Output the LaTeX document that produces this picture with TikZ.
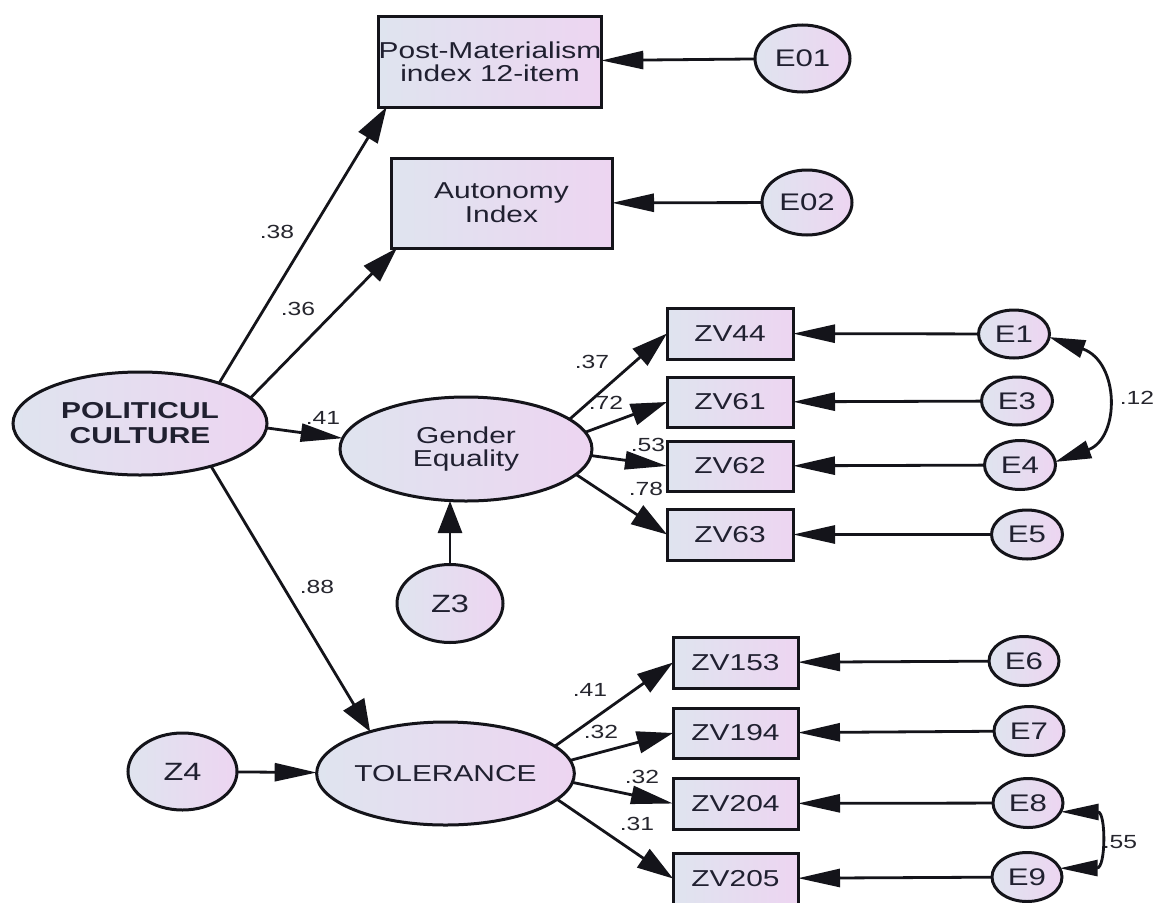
\documentclass[tikz,border=0pt]{standalone}
\usepackage{fontspec}
\setmainfont{Liberation Sans}[FakeStretch=1.3]
\usetikzlibrary{shapes.geometric,arrows.meta,calc}
\definecolor{fl}{RGB}{223,228,239}
\definecolor{fr}{RGB}{237,213,241}
\definecolor{ink}{RGB}{20,20,26}
\definecolor{txt}{RGB}{32,32,48}
\definecolor{labc}{RGB}{38,38,46}
\begin{document}
\begin{tikzpicture}[x=1pt,y=-1pt,
  shp/.style={draw=ink,line width=3pt,left color=fl,right color=fr,inner sep=0pt,outer sep=0pt,text=txt,align=center,font=\fontsize{23}{24}\selectfont},
  boxs/.style 2 args={shp,rectangle,minimum width=#1,minimum height=#2},
  ell/.style 2 args={shp,ellipse,minimum width=#1,minimum height=#2},
  efont/.style={font=\fontsize{24}{24}\selectfont},
  zfont/.style={font=\fontsize{25}{25}\selectfont},
  con/.style={draw=ink,line width=2.8pt},
  hx/.style={-{Triangle[length=42pt,width=18pt]}},
  dx/.style={-{Triangle[length=36pt,width=22pt]}},
  vx/.style={-{Triangle[length=32pt,width=24pt]}},
  lab/.style={font=\fontsize{19}{19}\selectfont,text=labc,inner sep=0pt}
]
\useasboundingbox (0,0) rectangle (1156,902);
\fill[white] (0,0) rectangle (1156,902);

% observed boxes top
\node[boxs={222pt}{91pt},font=\fontsize{23}{23}\selectfont] (pm) at (490,61.5) {Post-Materialism\\index 12-item};
\node[boxs={221pt}{90pt}] (au) at (501.5,203) {Autonomy\\Index};
\node[ell={95pt}{67pt},efont] (e01) at (802.5,58.5) {E01};
\node[ell={90pt}{65pt},efont] (e02) at (807,202.5) {E02};

% latent
\node[ell={254pt}{103pt},font=\bfseries\fontsize{23}{25}\selectfont] (pc) at (140,423.5) {POLITICUL\\CULTURE};
\node[ell={252pt}{104pt},font=\fontsize{23}{23}\selectfont] (ge) at (466,449) {Gender\\Equality};
\node[ell={106pt}{78pt},zfont] (z3) at (450,603.5) {Z3};
\node[ell={255pt}{103pt}] (tol) at (445.5,773.5) {TOLERANCE};
\node[ell={109pt}{77pt},zfont] (z4) at (182.5,771.5) {Z4};

% gender indicators
\node[boxs={126pt}{51pt}] (zv44) at (730,333.5) {ZV44};
\node[boxs={126pt}{50pt}] (zv61) at (730,402) {ZV61};
\node[boxs={126pt}{50pt}] (zv62) at (730,466) {ZV62};
\node[boxs={126pt}{51pt}] (zv63) at (730,534.5) {ZV63};
\node[ell={71pt}{48pt},efont] (e1) at (1014,334) {E1};
\node[ell={71pt}{48pt},efont] (e3) at (1017,401) {E3};
\node[ell={71pt}{49pt},efont] (e4) at (1020,465) {E4};
\node[ell={71pt}{49pt},efont] (e5) at (1027,534.5) {E5};

% tolerance indicators
\node[boxs={125pt}{51pt}] (zv153) at (735.5,662.5) {ZV153};
\node[boxs={125pt}{50pt}] (zv194) at (735.5,733) {ZV194};
\node[boxs={125pt}{51pt}] (zv204) at (735.5,803.5) {ZV204};
\node[boxs={125pt}{51pt}] (zv205) at (735.5,878.5) {ZV205};
\node[ell={70pt}{49pt},efont] (e6) at (1024,661) {E6};
\node[ell={70pt}{49pt},efont] (e7) at (1029,731) {E7};
\node[ell={70pt}{49pt},efont] (e8) at (1028,803) {E8};
\node[ell={70pt}{49pt},efont] (e9) at (1027,877) {E9};

% connectors from POLITICUL CULTURE
\draw[con,dx] (pc.27) -- ($(pm.south west)+(8,0)$);
\draw[con,dx] (pc.13.5) -- ($(au.south west)+(6,0)$);
\draw[con,hx] (pc.-2.5) -- (ge.175);
\draw[con,vx] (pc.-31) -- (tol.151);
\draw[con,vx] (z3.north) -- (z3.north |- ge.south);
\draw[con,hx] (z4) -- (tol);

% error arrows top
\draw[con,hx] (e01) -- (pm);
\draw[con,hx] (e02) -- (au);

% gender equality loadings
\draw[con,dx] (ge.16) -- (zv44.west);
\draw[con,dx] (ge.8) -- (zv61.west);
\draw[con,hx] (ge.-3) -- (zv62.west);
\draw[con,dx] (ge.-13) -- (zv63.west);
\draw[con,hx] (e1) -- (zv44);
\draw[con,hx] (e3) -- (zv61);
\draw[con,hx] (e4) -- (zv62);
\draw[con,hx] (e5) -- (zv63);

% tolerance loadings
\draw[con,dx] (tol.14.6) -- (zv153.west);
\draw[con,dx] (tol.6) -- (zv194.west);
\draw[con,hx] (tol.-4) -- (zv204.west);
\draw[con,dx] (tol.-13) -- (zv205.west);
\draw[con,hx] (e6) -- (zv153);
\draw[con,hx] (e7) -- (zv194);
\draw[con,hx] (e8) -- (zv204);
\draw[con,hx] (e9) -- (zv205);

% covariances
\draw[con,{Triangle[length=36pt,width=18pt]}-{Triangle[length=36pt,width=18pt]}] (e1.-5) .. controls (1120,362) and (1120,438) .. (e4.5);
\draw[con,{Triangle[length=38pt,width=16pt]}-{Triangle[length=38pt,width=16pt]}] (e8.-15) .. controls (1106,812) and (1106,868) .. (e9.15);

% labels
\node[lab] (l38) at (277,232) {.38};
\node[lab] (l36) at (298,309) {.36};
\node[lab] (l41a) at (323,418) {.41};
\node[lab] (l88) at (317,587) {.88};
\node[lab] (l37) at (592,362) {.37};
\node[lab] (l72) at (606,403) {.72};
\node[lab] (l53) at (648,445) {.53};
\node[lab] (l78) at (646,489) {.78};
\node[lab] (l12) at (1137,398) {.12};
\node[lab] (l41b) at (590,690) {.41};
\node[lab] (l32a) at (601,732) {.32};
\node[lab] (l32b) at (642,777) {.32};
\node[lab] (l31) at (637,824) {.31};
\node[lab] (l55) at (1120,842) {.55};
\end{tikzpicture}
\end{document}
